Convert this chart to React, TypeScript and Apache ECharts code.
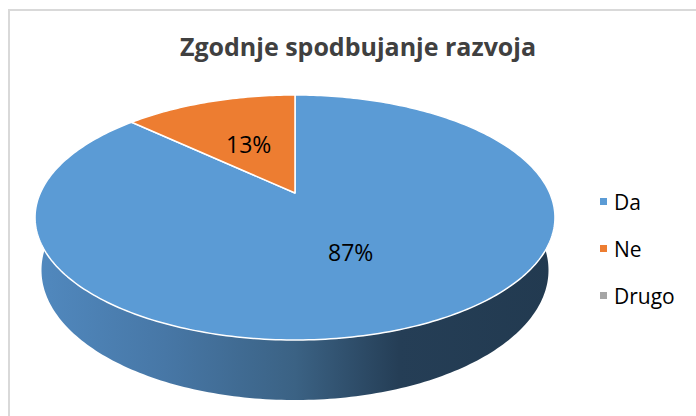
import React, { useEffect, useRef } from 'react';
import * as echarts from 'echarts';

const titleText = 'Zgodnje spodbujanje razvoja';
const categories = ['Da', 'Ne', 'Drugo'];
const values = [87, 13, 0];
const colors = ['#5B9BD5', '#ED7D31', '#A5A5A5'];

// 3D perspective layout of the pie (screen px / unit radius)
const L = { cx: 295, cy: 193, f: 1129.6, D: 4.435, ca: 0.887, sa: 0.4617, H: 0.235 };

function proj(phi: number, r: number, h: number): [number, number] {
  const x = r * Math.sin(phi);
  const z = r * Math.cos(phi);
  const yc = h * L.ca + z * L.sa;
  const zc = L.D + z * L.ca - h * L.sa;
  return [L.cx + (L.f * x) / zc, L.cy - (L.f * yc) / zc];
}

function arcPts(a: number, b: number, h: number): [number, number][] {
  const n = Math.max(2, Math.ceil(((b - a) * 180) / Math.PI));
  const pts: [number, number][] = [];
  for (let k = 0; k <= n; k++) pts.push(proj(a + ((b - a) * k) / n, 1, h));
  return pts;
}

export default function App() {
  const ref = useRef<HTMLDivElement>(null);
  useEffect(() => {
    if (!ref.current) return;
    const chart = echarts.init(ref.current, undefined, { renderer: 'svg' });
    const total = values.reduce((s, v) => s + v, 0);
    const starts: number[] = [];
    let acc = 0;
    values.forEach((v) => {
      starts.push(acc);
      acc += v;
    });
    const font = '"Open Sans", "Noto Sans", sans-serif';
    chart.setOption({
      animation: false,
      backgroundColor: '#ffffff',
      title: {
        text: titleText,
        left: 358,
        textAlign: 'center',
        top: 33,
        padding: 0,
        textStyle: { fontFamily: font, fontSize: 25, fontWeight: 'bold', color: '#404040' },
      },
      legend: {
        orient: 'vertical',
        left: 595,
        top: 186,
        icon: 'rect',
        itemWidth: 7,
        itemHeight: 7,
        itemGap: 26,
        data: categories,
        textStyle: { fontFamily: font, fontSize: 21, color: '#000', padding: [0, 0, 0, 2] },
        selectedMode: false,
      },
      graphic: [
        {
          type: 'polyline',
          shape: { points: [[9, 416], [9, 10], [696, 10]] },
          style: { stroke: '#d9d9d9', lineWidth: 2, fill: 'none' },
          silent: true,
        },
      ],
      series: [
        {
          type: 'pie',
          radius: [0, 0],
          center: [-100, -100],
          label: { show: false },
          silent: true,
          data: categories.map((c, i) => ({ name: c, value: values[i], itemStyle: { color: colors[i] } })),
        },
        {
          type: 'custom',
          coordinateSystem: 'none',
          data: values.map((v, i) => [i, v]),
          renderItem: (params: any) => {
            const i = params.dataIndex;
            const v = values[i];
            if (!v) return { type: 'group', children: [] };
            const a = (starts[i] / total) * Math.PI * 2;
            const b = ((starts[i] + v) / total) * Math.PI * 2;
            const children: any[] = [];
            // visible side wall (front part only)
            const fa = Math.max(a, Math.PI / 2 - 0.3);
            const fb = Math.min(b, (Math.PI * 3) / 2 + 0.3);
            if (fb > fa) {
              const top = arcPts(fa, fb, 0);
              const bot = arcPts(fa, fb, -L.H).reverse();
              children.push({
                type: 'polygon',
                z2: 1,
                shape: { points: top.concat(bot) },
                style: {
                  fill: new echarts.graphic.LinearGradient(0, 0, 1, 0, [
                    { offset: 0, color: '#5189bf' },
                    { offset: 0.25, color: '#4777a6' },
                    { offset: 0.5, color: '#3b6284' },
                    { offset: 0.7, color: '#253e56' },
                    { offset: 1, color: '#223a50' },
                  ]),
                  stroke: 'none',
                },
              });
            }
            // top face
            const face = [proj(0, 0, 0) as [number, number]].concat(arcPts(a, b, 0));
            children.push({
              type: 'polygon',
              z2: 10,
              shape: { points: face },
              style: { fill: colors[i], stroke: '#ffffff', lineWidth: 1.5, lineJoin: 'round' },
            });
            // percentage label
            const m = (a + b) / 2;
            const p = proj(m, 0.5, 0);
            children.push({
              type: 'text',
              z2: 20,
              x: p[0],
              y: p[1],
              style: {
                text: Math.round((v / total) * 100) + '%',
                fontFamily: font,
                fontSize: 23,
                fill: '#000000',
                align: 'center',
                verticalAlign: 'middle',
              },
            });
            return { type: 'group', children };
          },
        },
      ],
    });
    return () => chart.dispose();
  }, []);
  return (
    <div
      ref={ref}
      style={{ position: 'absolute', left: 0, top: 0, width: 696, height: 416 }}
    />
  );
}
